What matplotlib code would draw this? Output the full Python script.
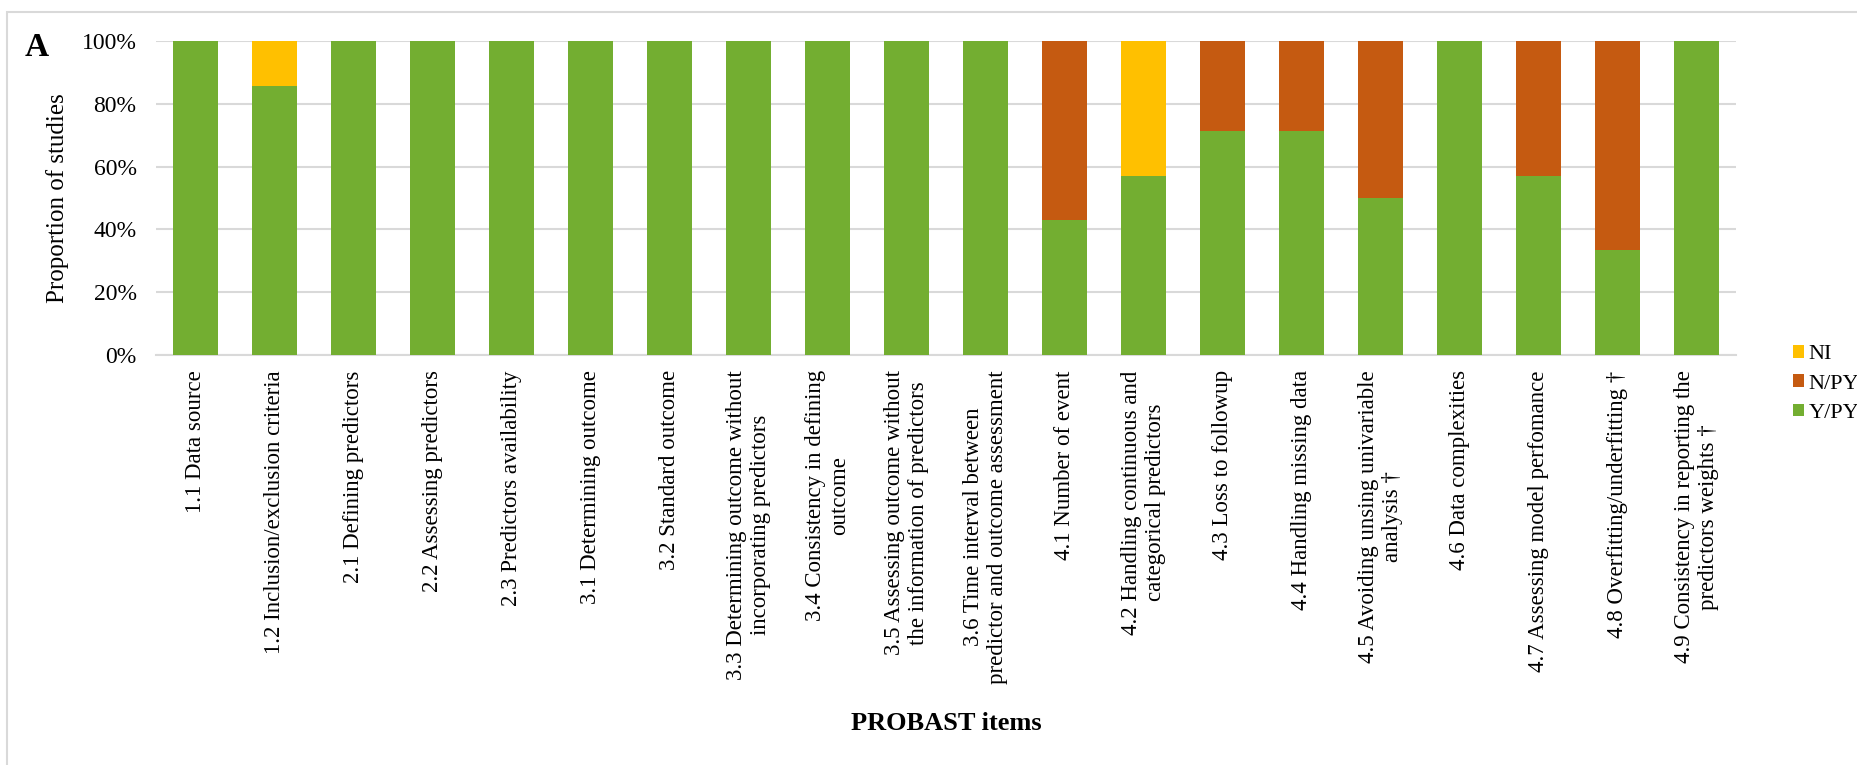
import matplotlib
matplotlib.use("Agg")
import matplotlib.pyplot as plt
import numpy as np
from matplotlib.patches import Rectangle

plt.rcParams['font.family'] = ['Liberation Serif', 'DejaVu Serif']

# PROBAST items and proportions (%)
items = ["1.1 Data source",
         "1.2 Inclusion/exclusion criteria",
         "2.1 Defining predictors",
         "2.2 Assessing predictors",
         "2.3 Predictors availability",
         "3.1 Determining outcome",
         "3.2 Standard outcome",
         "3.3 Determining outcome without\nincorporating predictors",
         "3.4 Consistency in defining\noutcome",
         "3.5 Assessing outcome without\nthe information of predictors",
         "3.6 Time interval between\npredictor and outcome assessment",
         "4.1 Number of event",
         "4.2 Handling continuous and\ncategorical predictors",
         "4.3 Loss to followup",
         "4.4 Handling missing data",
         "4.5 Avoiding unsing univariable\nanalysis \u2020",
         "4.6 Data complexities",
         "4.7 Assessing model perfomance",
         "4.8 Overfitting/underfitting \u2020",
         "4.9 Consistency in reporting the\npredictors weights \u2020"]

y_py = [100, 85.7, 100, 100, 100, 100, 100, 100, 100, 100, 100,
        42.9, 57.1, 71.4, 71.4, 50, 100, 57.1, 33.3, 100]
n_py = [0, 0, 0, 0, 0, 0, 0, 0, 0, 0, 0,
        57.1, 0, 28.6, 28.6, 50, 0, 42.9, 66.7, 0]
ni = [0, 14.3, 0, 0, 0, 0, 0, 0, 0, 0, 0,
      0, 42.9, 0, 0, 0, 0, 0, 0, 0]

c_green = '#73AE31'
c_orange = '#C55A11'
c_yellow = '#FFC000'

fig = plt.figure(figsize=(18.58, 7.65), dpi=100)
ax = fig.add_axes([156/1858, 1-355/765, (1736-156)/1858, (355-41)/765])

x = np.arange(len(items))
w = 0.57
y_py = np.array(y_py)
n_py = np.array(n_py)
ni = np.array(ni)
ax.bar(x, y_py, w, color=c_green, label='Y/PY', zorder=3)
ax.bar(x, n_py, w, bottom=y_py, color=c_orange, label='N/PY', zorder=3)
ax.bar(x, ni, w, bottom=y_py+n_py, color=c_yellow, label='NI', zorder=3)

ax.set_xlim(-0.5, len(items)-0.5)
ax.set_ylim(0, 100)
ax.set_yticks(np.arange(0, 101, 20))
ax.set_yticklabels([f"{v}%" for v in range(0, 101, 20)], fontsize=17)
ax.yaxis.grid(True, color='#d9d9d9', linewidth=1.5, zorder=0)
ax.set_axisbelow(True)
for s in ['top', 'right', 'left']:
    ax.spines[s].set_visible(False)
ax.spines['bottom'].set_color('#d9d9d9')
ax.spines['bottom'].set_linewidth(1.5)
ax.tick_params(axis='both', length=0)
ax.tick_params(axis='y', pad=14)
ax.set_xticks(x)
ax.set_xticklabels(items, rotation=90, fontsize=16.5, ha='center', va='top',
                   multialignment='center')
ax.tick_params(axis='x', pad=11)

fig.text(58/1858, 1-198/765, "Proportion of studies", fontsize=18, rotation=90,
         ha='center', va='center')
fig.text(946/1858, 1-723/765, "PROBAST items", fontsize=19, fontweight='bold',
         ha='center', va='center')
fig.text(25/1858, 1-47/765, "A", fontsize=24, fontweight='bold',
         ha='left', va='center')

h, l = ax.get_legend_handles_labels()
fig.legend(h[::-1], l[::-1], loc='center left', bbox_to_anchor=(1784/1858, 1-384/765),
           frameon=False, fontsize=16, handlelength=0.5, handleheight=0.5,
           handletextpad=0.2, labelspacing=0.45, borderaxespad=0)

# outer border
fig.patches.append(Rectangle((7/1858, -0.1), 1.2, 1.1-12/765, transform=fig.transFigure,
                             fill=False, edgecolor='#d9d9d9', linewidth=1.5))

fig.savefig("out.png", dpi=100)
